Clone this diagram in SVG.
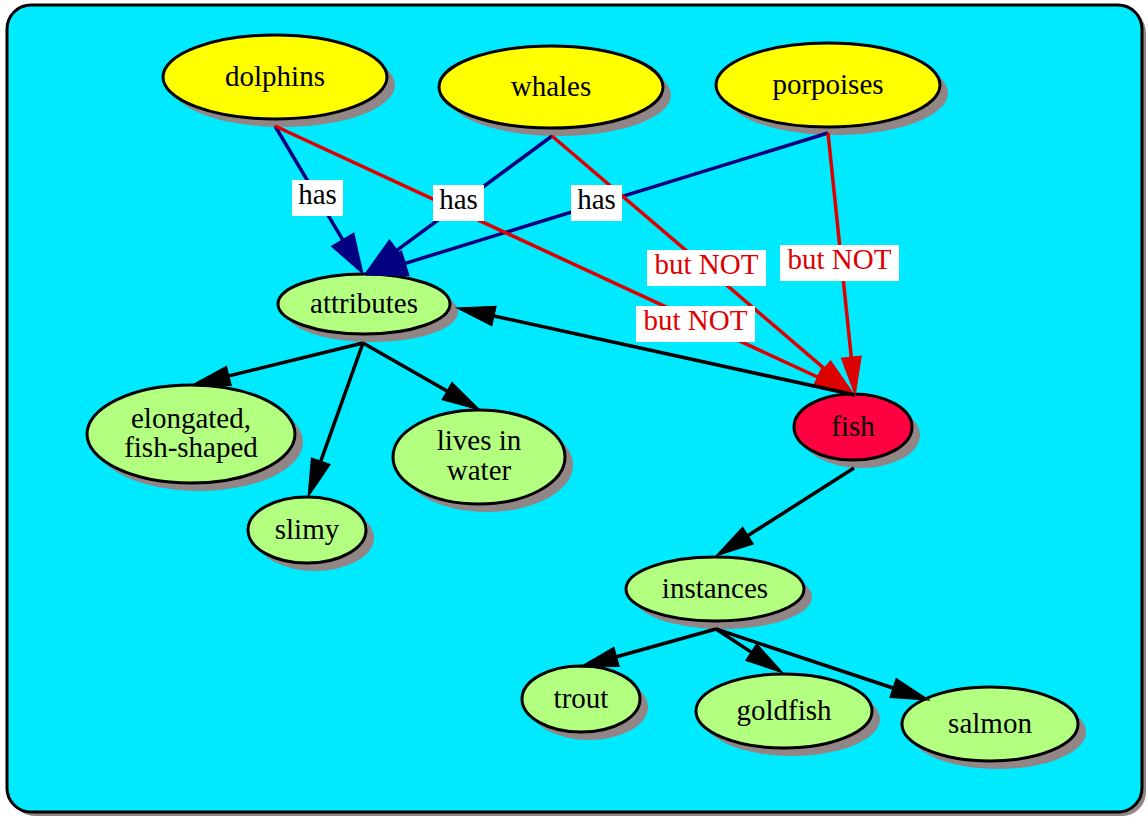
<svg xmlns="http://www.w3.org/2000/svg" width="1148" height="817" viewBox="0 0 1148 817">
<style>
text{font-family:"Liberation Serif","Times New Roman",serif;font-size:29px;text-anchor:middle;fill:#000}
.sh{fill:#918585}
.nd{stroke:#000;stroke-width:3}
.y{fill:#ffff00}
.g{fill:#b3ff80}
.r{fill:#ff0040}
.e{fill:none;stroke-width:3.5}
.nv{stroke:#000080}
.rd{stroke:#dd0000}
.bk{stroke:#000}
.lb{fill:#fff}
.rt{fill:#dd0000}
</style>
<defs>
<marker id="aN" markerUnits="userSpaceOnUse" orient="auto" refX="0" refY="0" markerWidth="40" markerHeight="30" overflow="visible"><path d="M0,-13 L40,0 L0,13 Z" fill="#000080" stroke="#000080" stroke-width="1"/></marker>
<marker id="aR" markerUnits="userSpaceOnUse" orient="auto" refX="0" refY="0" markerWidth="38" markerHeight="22" overflow="visible"><path d="M0,-10 L38,0 L0,10 Z" fill="#dd0000" stroke="#dd0000" stroke-width="1"/></marker>
<marker id="aB" markerUnits="userSpaceOnUse" orient="auto" refX="0" refY="0" markerWidth="38" markerHeight="22" overflow="visible"><path d="M0,-10 L38,0 L0,10 Z" fill="#000" stroke="#000" stroke-width="1"/></marker>
</defs>
<g id="background">
<rect x="11" y="9" width="1135" height="807" rx="24" class="sh"/>
<rect x="7" y="5" width="1135" height="807" rx="24" fill="#00eaff" stroke="#000" stroke-width="3"/>
</g>
<g id="dolphins"><ellipse cx="283" cy="85" rx="112" ry="42" class="sh"/><ellipse cx="275" cy="77" rx="112" ry="42" class="nd y"/><text x="275" y="86">dolphins</text></g>
<g id="whales"><ellipse cx="559" cy="95" rx="112" ry="41" class="sh"/><ellipse cx="551" cy="87" rx="112" ry="41" class="nd y"/><text x="551" y="96">whales</text></g>
<g id="porpoises"><ellipse cx="836" cy="93" rx="112" ry="42" class="sh"/><ellipse cx="828" cy="85" rx="112" ry="42" class="nd y"/><text x="828" y="94">porpoises</text></g>
<g id="attributes"><ellipse cx="372" cy="312" rx="86" ry="30" class="sh"/><ellipse cx="364" cy="304" rx="86" ry="30" class="nd g"/><text x="364" y="313">attributes</text></g>
<g id="fish"><ellipse cx="861" cy="435" rx="59" ry="33" class="sh"/><ellipse cx="853" cy="427" rx="59" ry="33" class="nd r"/><text x="853" y="436">fish</text></g>
<g id="elongated"><ellipse cx="199" cy="442" rx="104" ry="49" class="sh"/><ellipse cx="191" cy="434" rx="104" ry="49" class="nd g"/><text x="191" y="428">elongated,</text><text x="191" y="457">fish-shaped</text></g>
<g id="slimy"><ellipse cx="315" cy="538" rx="59" ry="33" class="sh"/><ellipse cx="307" cy="530" rx="59" ry="33" class="nd g"/><text x="307" y="539">slimy</text></g>
<g id="lives"><ellipse cx="487" cy="465" rx="86" ry="47" class="sh"/><ellipse cx="479" cy="457" rx="86" ry="47" class="nd g"/><text x="479" y="450">lives in</text><text x="479" y="480">water</text></g>
<g id="instances"><ellipse cx="723" cy="597" rx="89" ry="32" class="sh"/><ellipse cx="715" cy="589" rx="89" ry="32" class="nd g"/><text x="715" y="598">instances</text></g>
<g id="trout"><ellipse cx="589" cy="707" rx="59" ry="33" class="sh"/><ellipse cx="581" cy="699" rx="59" ry="33" class="nd g"/><text x="581" y="708">trout</text></g>
<g id="goldfish"><ellipse cx="792" cy="719" rx="88" ry="37" class="sh"/><ellipse cx="784" cy="711" rx="88" ry="37" class="nd g"/><text x="784" y="720">goldfish</text></g>
<g id="salmon"><ellipse cx="998" cy="732" rx="88" ry="37" class="sh"/><ellipse cx="990" cy="724" rx="88" ry="37" class="nd g"/><text x="990" y="733">salmon</text></g>
<g id="connectors">
<line x1="275" y1="126" x2="342.6" y2="239.6" class="e nv" marker-end="url(#aN)"/>
<line x1="552" y1="136" x2="397.2" y2="250.2" class="e nv" marker-end="url(#aN)"/>
<line x1="828" y1="133" x2="405.3" y2="263.3" class="e nv" marker-end="url(#aN)"/>
<line x1="275" y1="126" x2="817.5" y2="377" class="e rd" marker-end="url(#aR)"/>
<line x1="552" y1="136" x2="824.1" y2="368.3" class="e rd" marker-end="url(#aR)"/>
<line x1="828" y1="133" x2="851.3" y2="357.2" class="e rd" marker-end="url(#aR)"/>
<line x1="855" y1="395" x2="494" y2="316" class="e bk" marker-end="url(#aB)"/>
<line x1="363" y1="343" x2="228.9" y2="375.9" class="e bk" marker-end="url(#aB)"/>
<line x1="363" y1="343" x2="320.8" y2="461.2" class="e bk" marker-end="url(#aB)"/>
<line x1="363" y1="343" x2="447" y2="391.1" class="e bk" marker-end="url(#aB)"/>
<line x1="854" y1="468" x2="748" y2="535.6" class="e bk" marker-end="url(#aB)"/>
<line x1="716" y1="629" x2="616.6" y2="656.8" class="e bk" marker-end="url(#aB)"/>
<line x1="716" y1="629" x2="751.2" y2="652.1" class="e bk" marker-end="url(#aB)"/>
<line x1="716" y1="629" x2="893" y2="688" class="e bk" marker-end="url(#aB)"/>
<rect x="292" y="180" width="51" height="36" class="lb"/><text x="317.5" y="204">has</text>
<rect x="433" y="185" width="51" height="36" class="lb"/><text x="458.5" y="209">has</text>
<rect x="571" y="185" width="51" height="36" class="lb"/><text x="596.5" y="209">has</text>
<rect x="647" y="250" width="119" height="36" class="lb"/><text x="706.5" y="274" class="rt">but NOT</text>
<rect x="780" y="245" width="119" height="36" class="lb"/><text x="839.5" y="269" class="rt">but NOT</text>
<rect x="636" y="306" width="119" height="36" class="lb"/><text x="695.5" y="330" class="rt">but NOT</text>
</g>
</svg>
